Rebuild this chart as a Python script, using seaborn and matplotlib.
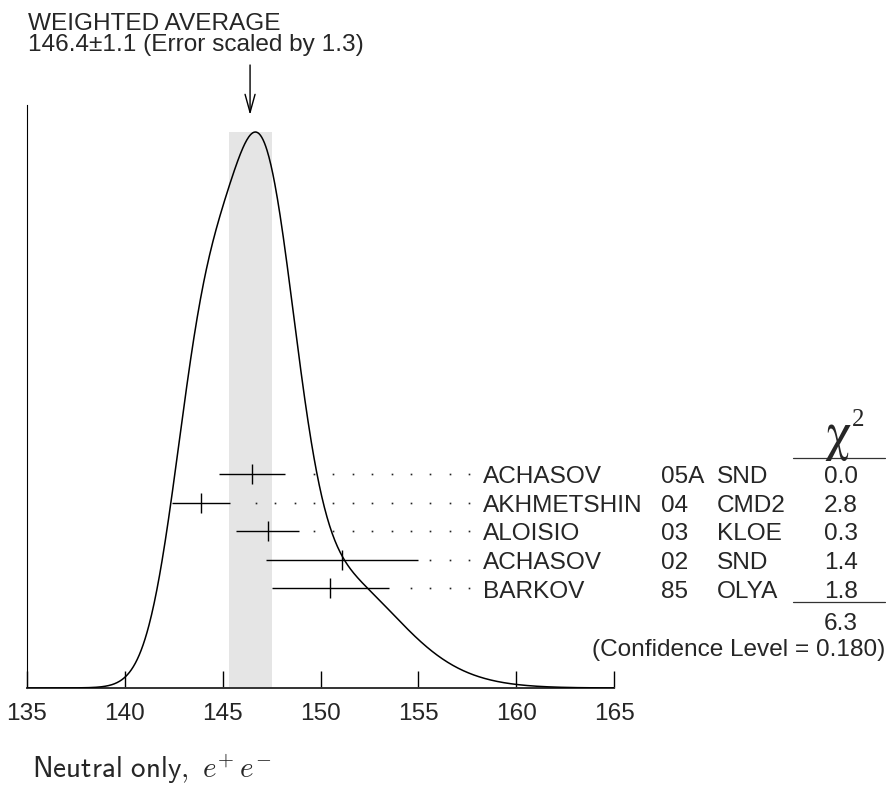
import numpy as np
import pandas as pd
import matplotlib
matplotlib.use("Agg")
import matplotlib.pyplot as plt
from matplotlib.lines import Line2D
import seaborn as sns

names = ["ACHASOV", "AKHMETSHIN", "ALOISIO", "ACHASOV", "BARKOV"]
years = ["05A", "04", "03", "02", "85"]
expts = ["SND", "CMD2", "KLOE", "SND", "OLYA"]
values = [146.5, 143.9, 147.3, 151.1, 150.5]
errors = [1.7, 1.5, 1.6, 3.9, 3.0]
chi2 = ["0.0", "2.8", "0.3", "1.4", "1.8"]
chi2_total = "6.3"
conf_level = "0.180"
avg_value = 146.4
avg_error = 1.1
scale_factor = 1.3
x_ticks = [135, 140, 145, 150, 155, 160, 165]

W, H = 886, 786
sns.set_theme(style="white")
plt.rcParams["font.family"] = ["Liberation Sans", "DejaVu Sans"]

fig = plt.figure(figsize=(W / 100, H / 100), dpi=100)
# axes: x 27..614 px, y 105..688 px (from top)
ax = fig.add_axes([27 / W, (H - 688) / H, 587 / W, 583 / H])


def fy(py):
    # pixel row (from top) -> figure fraction
    return 1 - py / H


def ay(py):
    # pixel row (from top) -> axes fraction
    return (688 - py) / 583


# ideogram: sum of gaussians, each with area ~ 1/error
xs = np.linspace(135, 165, 901)
ideo = np.zeros_like(xs)
for v, e in zip(values, errors):
    ideo += np.exp(-0.5 * ((xs - v) / e) ** 2) / e ** 2
ideo /= ideo.max()
curve = pd.DataFrame({"x": xs, "y": ideo})

top = 1 / ay(132)
ax.set_xlim(135, 165)
ax.set_ylim(0, top)

# weighted average band
ax.fill_between([avg_value - avg_error, avg_value + avg_error], 0, 1,
                color="#e5e5e5", lw=0, zorder=1)
sns.lineplot(data=curve, x="x", y="y", color="black", lw=1.1, ax=ax, zorder=3)

# measurement rows
row_px = [474 + 28.5 * i for i in range(len(values))]
row_y = [ay(p) * top for p in row_px]
ax.errorbar(values, row_y, xerr=errors, fmt="none", ecolor="black",
            elinewidth=1.0, capsize=0, zorder=4)
ax.plot(values, row_y, ls="none", marker="|", ms=13.7, mew=1.0,
        color="black", zorder=4)

# dotted leaders to the labels
dot_x = np.arange(146.7, 157.7, 0.99)
for v, e, y in zip(values, errors, row_y):
    dx = dot_x[dot_x > v + e + 0.6]
    ax.plot(dx, [y] * len(dx), ls="none", marker="s", ms=1.2, mew=0,
            color="#222222", zorder=4)

# table on the right
fs = 17.6
for i in range(len(values)):
    b = fy(row_px[i] + 9.5)
    fig.text(483 / W, b, names[i], fontsize=fs, va="baseline")
    fig.text(661 / W, b, years[i], fontsize=fs, va="baseline")
    fig.text(717 / W, b, expts[i], fontsize=fs, va="baseline")
    fig.text(858 / W, b, chi2[i], fontsize=fs, va="baseline", ha="right")

fig.text(838 / W, fy(449), r"$\mathrm{\chi}$", fontsize=38, va="baseline",
         ha="center", math_fontfamily="stix")
fig.text(852 / W, fy(426), "2", fontsize=18, va="baseline",
         family=["Liberation Serif", "DejaVu Serif"])
for py in [458, 602]:
    fig.add_artist(Line2D([793 / W, 885 / W], [fy(py), fy(py)],
                          color="#333333", lw=0.9))
fig.text(858 / W, fy(630.5), chi2_total, fontsize=fs, va="baseline", ha="right")
fig.text(885 / W, fy(656), f"(Confidence Level = {conf_level})",
         fontsize=fs, va="baseline", ha="right")

# weighted average header and arrow
fig.text(28 / W, fy(30.5), "WEIGHTED AVERAGE", fontsize=fs, va="baseline")
fig.text(28 / W, fy(51.5),
         f"{avg_value}\u00b1{avg_error} (Error scaled by {scale_factor})",
         fontsize=fs, va="baseline")
ax.annotate("", xy=(avg_value, ay(115) * top), xytext=(avg_value, ay(65) * top),
            annotation_clip=False,
            arrowprops=dict(arrowstyle="->,head_length=1.3,head_width=0.36",
                            mutation_scale=10, lw=1.0, color="black",
                            shrinkA=0, shrinkB=0))

fig.text(32 / W, fy(778), r"$\mathsf{Neutral\ only,}\ e^{+}\,e^{-}$",
         math_fontfamily="cm", fontsize=21, va="baseline")

# axes styling
for s in ["top", "right"]:
    ax.spines[s].set_visible(False)
ax.spines["left"].set_color("black")
ax.spines["left"].set_linewidth(0.8)
ax.spines["bottom"].set_color("#333333")
ax.spines["bottom"].set_linewidth(1.4)
ax.set_xticks(x_ticks)
ax.set_xticklabels([str(t) for t in x_ticks])
ax.set_yticks([])
ax.tick_params(axis="x", direction="in", length=12.2, width=1.0,
               color="black", pad=10.5, labelsize=fs, bottom=True)
ax.set_xlabel("")
ax.set_ylabel("")

fig.savefig("out.png", dpi=100)
